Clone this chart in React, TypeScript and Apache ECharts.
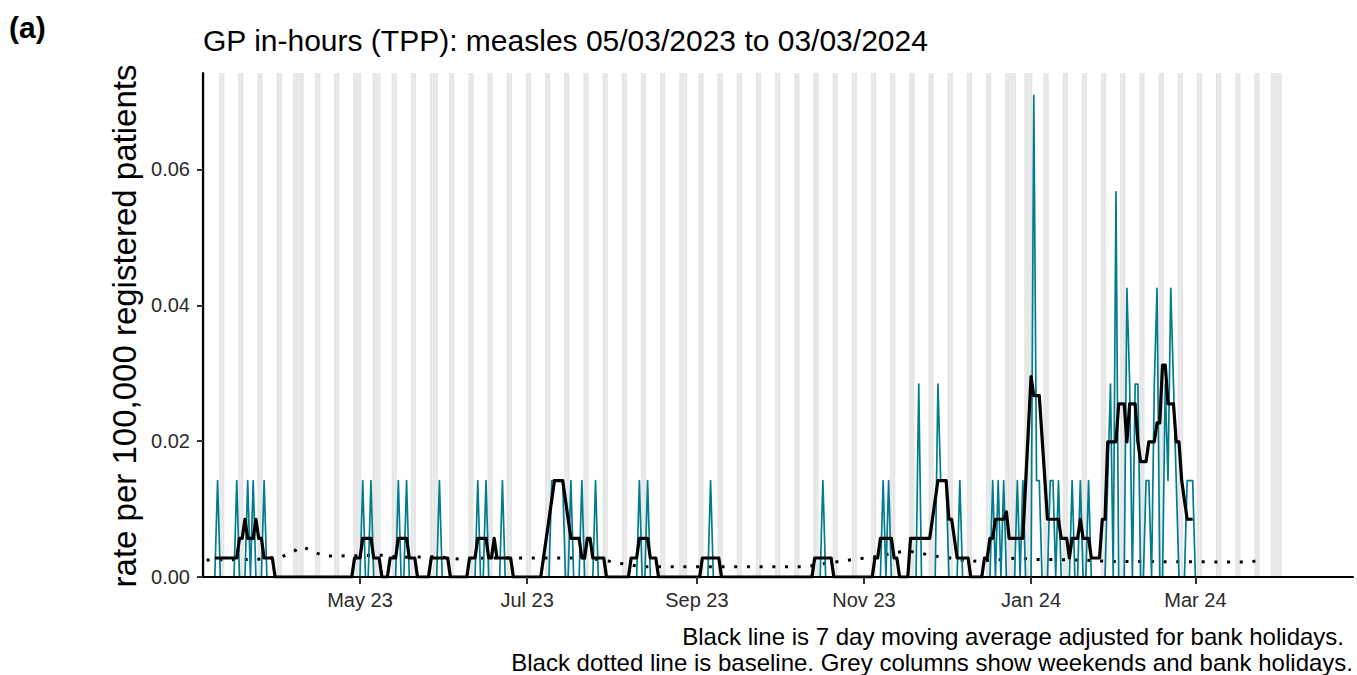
import { useEffect, useRef } from "react";
import * as echarts from "echarts";

// ---------- texts ----------
const TITLE = "GP in-hours (TPP): measles 05/03/2023 to 03/03/2024";
const PANEL_TAG = "(a)";
const Y_NAME = "rate per 100,000 registered patients";
const CAPTION_1 = "Black line is 7 day moving average adjusted for bank holidays.";
const CAPTION_2 = "Black dotted line is baseline. Grey columns show weekends and bank holidays.";

// ---------- axes ----------
const X_TICK_DATES = ["2023-05-01", "2023-07-01", "2023-09-01", "2023-11-01", "2024-01-01", "2024-03-01"];
const X_TICK_LABELS = ["May 23", "Jul 23", "Sep 23", "Nov 23", "Jan 24", "Mar 24"];
const Y_TICKS = [0, 0.02, 0.04, 0.06];
const Y_MAX = 0.0742;
const X_START = "2023-03-05";
const X_END = "2024-04-27";

// ---------- data ----------
const DAILY_START = "2023-03-06";
const DAILY_END = "2024-03-03";
// days with a non-zero daily rate (all other days in the range are 0)
const DAILY_NONZERO: [string, number][] = [
  ["2023-03-10", 0.0142], ["2023-03-17", 0.0142], ["2023-03-21", 0.0142], ["2023-03-23", 0.0142], ["2023-03-27", 0.0142],
  ["2023-05-02", 0.0142], ["2023-05-05", 0.0142], ["2023-05-15", 0.0142], ["2023-05-18", 0.0142], ["2023-05-30", 0.0142],
  ["2023-06-13", 0.0142], ["2023-06-16", 0.0142], ["2023-06-22", 0.0142],
  ["2023-07-10", 0.0142], ["2023-07-11", 0.0142], ["2023-07-12", 0.0142], ["2023-07-13", 0.0142], ["2023-07-14", 0.0142],
  ["2023-07-17", 0.0142], ["2023-07-21", 0.0142], ["2023-07-26", 0.0142],
  ["2023-08-11", 0.0142], ["2023-08-14", 0.0142], ["2023-09-06", 0.0142], ["2023-10-17", 0.0142],
  ["2023-11-08", 0.0142], ["2023-11-10", 0.0142], ["2023-11-21", 0.0284], ["2023-11-28", 0.0284],
  ["2023-11-29", 0.0142], ["2023-11-30", 0.0142], ["2023-12-01", 0.0142],
  ["2023-12-06", 0.0142], ["2023-12-18", 0.0142], ["2023-12-20", 0.0142], ["2023-12-22", 0.0142],
  ["2023-12-27", 0.0142], ["2023-12-29", 0.0142],
  ["2024-01-02", 0.0709], ["2024-01-03", 0.0142], ["2024-01-04", 0.0142], ["2024-01-08", 0.0142], ["2024-01-09", 0.0142],
  ["2024-01-11", 0.0142], ["2024-01-16", 0.0142], ["2024-01-19", 0.0142], ["2024-01-22", 0.0142],
  ["2024-01-29", 0.0142], ["2024-01-30", 0.0284], ["2024-02-01", 0.0567],
  ["2024-02-05", 0.0425], ["2024-02-06", 0.0284], ["2024-02-08", 0.0284], ["2024-02-09", 0.0284],
  ["2024-02-12", 0.0142], ["2024-02-13", 0.0142], ["2024-02-15", 0.0284], ["2024-02-16", 0.0425],
  ["2024-02-19", 0.0284], ["2024-02-20", 0.0142], ["2024-02-21", 0.0425], ["2024-02-22", 0.0284], ["2024-02-23", 0.0142],
  ["2024-02-27", 0.0142], ["2024-02-28", 0.0142], ["2024-02-29", 0.0142],
];

// 7 day moving average, read as the points where the black line changes direction
const MOVING_AVERAGE: [string, number][] = [
  ["2023-03-09", 0.0028], ["2023-03-17", 0.0028], ["2023-03-18", 0.0057], ["2023-03-19", 0.0057], ["2023-03-20", 0.0085],
  ["2023-03-21", 0.0057], ["2023-03-23", 0.0057], ["2023-03-24", 0.0085], ["2023-03-25", 0.0057], ["2023-03-26", 0.0057],
  ["2023-03-27", 0.0028], ["2023-03-30", 0.0028], ["2023-03-31", 0],
  ["2023-04-28", 0], ["2023-04-29", 0.0028], ["2023-05-01", 0.0028], ["2023-05-02", 0.0057], ["2023-05-05", 0.0057],
  ["2023-05-06", 0.0028], ["2023-05-08", 0.0028], ["2023-05-09", 0],
  ["2023-05-11", 0], ["2023-05-12", 0.0028], ["2023-05-14", 0.0028], ["2023-05-15", 0.0057], ["2023-05-18", 0.0057],
  ["2023-05-19", 0.0028], ["2023-05-21", 0.0028], ["2023-05-22", 0],
  ["2023-05-26", 0], ["2023-05-27", 0.0028], ["2023-06-02", 0.0028], ["2023-06-03", 0],
  ["2023-06-09", 0], ["2023-06-10", 0.0028], ["2023-06-12", 0.0028], ["2023-06-13", 0.0057], ["2023-06-16", 0.0057],
  ["2023-06-17", 0.0028], ["2023-06-18", 0.0028], ["2023-06-19", 0.0057], ["2023-06-20", 0.0028], ["2023-06-25", 0.0028],
  ["2023-06-26", 0],
  ["2023-07-06", 0], ["2023-07-11", 0.0142], ["2023-07-14", 0.0142], ["2023-07-17", 0.0057], ["2023-07-20", 0.0057],
  ["2023-07-21", 0.0028], ["2023-07-22", 0.0028], ["2023-07-23", 0.0057], ["2023-07-24", 0.0057], ["2023-07-25", 0.0028],
  ["2023-07-29", 0.0028], ["2023-07-30", 0],
  ["2023-08-07", 0], ["2023-08-08", 0.0028], ["2023-08-10", 0.0028], ["2023-08-11", 0.0057], ["2023-08-14", 0.0057],
  ["2023-08-15", 0.0028], ["2023-08-17", 0.0028], ["2023-08-18", 0],
  ["2023-09-02", 0], ["2023-09-03", 0.0028], ["2023-09-09", 0.0028], ["2023-09-10", 0],
  ["2023-10-13", 0], ["2023-10-14", 0.0028], ["2023-10-20", 0.0028], ["2023-10-21", 0],
  ["2023-11-04", 0], ["2023-11-05", 0.0028], ["2023-11-06", 0.0028], ["2023-11-07", 0.0057], ["2023-11-11", 0.0057],
  ["2023-11-12", 0.0028], ["2023-11-13", 0.0028], ["2023-11-14", 0],
  ["2023-11-17", 0], ["2023-11-18", 0.0057], ["2023-11-25", 0.0057], ["2023-11-28", 0.0142], ["2023-12-01", 0.0142],
  ["2023-12-02", 0.0085], ["2023-12-03", 0.0085], ["2023-12-04", 0.0057], ["2023-12-05", 0.0028], ["2023-12-09", 0.0028],
  ["2023-12-10", 0],
  ["2023-12-14", 0], ["2023-12-15", 0.0028], ["2023-12-16", 0.0028], ["2023-12-17", 0.0057], ["2023-12-18", 0.0057],
  ["2023-12-19", 0.0085], ["2023-12-22", 0.0085], ["2023-12-23", 0.0096], ["2023-12-24", 0.0057], ["2023-12-29", 0.0057],
  ["2024-01-01", 0.0295], ["2024-01-02", 0.0267], ["2024-01-04", 0.0267], ["2024-01-07", 0.0085], ["2024-01-11", 0.0085],
  ["2024-01-12", 0.0057], ["2024-01-14", 0.0057], ["2024-01-15", 0.0028], ["2024-01-16", 0.0057], ["2024-01-18", 0.0057],
  ["2024-01-19", 0.0085], ["2024-01-20", 0.0057], ["2024-01-22", 0.0057], ["2024-01-23", 0.0028], ["2024-01-26", 0.0028],
  ["2024-01-27", 0.0085], ["2024-01-28", 0.0085], ["2024-01-29", 0.0199], ["2024-02-01", 0.0199], ["2024-02-02", 0.0255],
  ["2024-02-04", 0.0255], ["2024-02-05", 0.0199], ["2024-02-06", 0.0255], ["2024-02-08", 0.0255], ["2024-02-09", 0.0199],
  ["2024-02-10", 0.017], ["2024-02-12", 0.017], ["2024-02-13", 0.0199], ["2024-02-15", 0.0199], ["2024-02-16", 0.0227],
  ["2024-02-17", 0.0227], ["2024-02-18", 0.0312], ["2024-02-19", 0.0312], ["2024-02-20", 0.0255], ["2024-02-22", 0.0255],
  ["2024-02-23", 0.0199], ["2024-02-24", 0.0199], ["2024-02-25", 0.0142], ["2024-02-26", 0.0113], ["2024-02-27", 0.0085],
  ["2024-02-29", 0.0085],
];

const BASELINE: [string, number][] = [
  ["2023-03-06", 0.0025], ["2023-03-24", 0.0026], ["2023-03-29", 0.0028], ["2023-04-02", 0.0029], ["2023-04-06", 0.0036],
  ["2023-04-10", 0.0045], ["2023-04-14", 0.0037], ["2023-04-18", 0.0031], ["2023-04-23", 0.0031], ["2023-05-10", 0.0032],
  ["2023-05-15", 0.0029], ["2023-05-29", 0.003], ["2023-06-07", 0.0026], ["2023-06-16", 0.0028], ["2023-07-20", 0.0028],
  ["2023-07-29", 0.0025], ["2023-08-04", 0.002], ["2023-08-08", 0.0018], ["2023-08-11", 0.0015], ["2023-10-11", 0.0015],
  ["2023-10-16", 0.0019], ["2023-10-25", 0.0024], ["2023-10-30", 0.0027], ["2023-11-04", 0.0029], ["2023-11-08", 0.0032],
  ["2023-11-12", 0.0036], ["2023-11-17", 0.0038], ["2023-11-22", 0.0035], ["2023-11-26", 0.0031], ["2023-12-01", 0.0029],
  ["2023-12-06", 0.0025], ["2023-12-10", 0.0023], ["2023-12-19", 0.0025], ["2023-12-24", 0.0027], ["2023-12-28", 0.0028],
  ["2024-01-01", 0.0026], ["2024-01-20", 0.0025], ["2024-01-29", 0.0023], ["2024-03-21", 0.0022], ["2024-03-25", 0.0025],
];

const BANK_HOLIDAYS = [
  "2023-04-07", "2023-04-10", "2023-05-01", "2023-05-08", "2023-05-29", "2023-08-28",
  "2023-12-25", "2023-12-26", "2024-01-01", "2024-03-29", "2024-04-01",
];
const GREY_FROM = "2023-03-05";
const GREY_TO = "2024-04-01";

// ---------- styling ----------
const FONT = "'Liberation Sans', Arial, Helvetica, sans-serif";
const TEAL = "#007C91";
const GREY = "#e6e6e6";

const DAY_MS = 86400000;
const ORIGIN = Date.UTC(2023, 4, 1);
function dayNum(s: string): number {
  const [y, m, d] = s.split("-").map(Number);
  return Math.round((Date.UTC(y, m - 1, d) - ORIGIN) / DAY_MS);
}

function buildDaily(): [number, number][] {
  const map = new Map<number, number>();
  DAILY_NONZERO.forEach(([s, v]) => map.set(dayNum(s), v));
  const out: [number, number][] = [];
  for (let d = dayNum(DAILY_START); d <= dayNum(DAILY_END); d++) out.push([d, map.get(d) ?? 0]);
  return out;
}

function buildGreyDays(): number[] {
  const set = new Set<number>(BANK_HOLIDAYS.map(dayNum));
  for (let d = dayNum(GREY_FROM); d <= dayNum(GREY_TO); d++) {
    const wd = new Date(ORIGIN + d * DAY_MS).getUTCDay();
    if (wd === 0 || wd === 6) set.add(d);
  }
  return Array.from(set).sort((a, b) => a - b);
}

export default function App() {
  const ref = useRef<HTMLDivElement>(null);
  useEffect(() => {
    if (!ref.current) return;
    const chart = echarts.init(ref.current, null, { renderer: "svg" });
    const xTicks = X_TICK_DATES.map(dayNum);
    const greyDays = buildGreyDays();
    const option: any = {
      animation: false,
      backgroundColor: "#ffffff",
      grid: { left: 203, right: 4, top: 73, bottom: 98, containLabel: false },
      xAxis: {
        type: "value",
        min: dayNum(X_START) - 0.32,
        max: dayNum(X_END) + 0.54,
        z: 10,
        splitLine: { show: false },
        axisLine: { show: true, onZero: false, lineStyle: { color: "#000", width: 2.2 } },
        axisTick: { show: true, customValues: xTicks, length: 7, lineStyle: { color: "#333", width: 2 } },
        axisLabel: {
          show: true,
          customValues: xTicks,
          margin: 13,
          color: "#2b2b2b",
          fontSize: 20,
          fontFamily: FONT,
          formatter: (v: number) => {
            const i = xTicks.findIndex((t) => Math.abs(t - v) < 0.5);
            return i >= 0 ? X_TICK_LABELS[i] : "";
          },
        },
      },
      yAxis: {
        type: "value",
        min: 0,
        max: Y_MAX,
        interval: 0.02,
        z: 10,
        splitLine: { show: false },
        axisLine: { show: true, onZero: false, lineStyle: { color: "#000", width: 2.2 } },
        axisTick: { show: true, customValues: Y_TICKS, length: 6, lineStyle: { color: "#333", width: 2 } },
        axisLabel: {
          show: true,
          customValues: Y_TICKS,
          margin: 13,
          color: "#2b2b2b",
          fontSize: 20,
          fontFamily: FONT,
          formatter: (v: number) => v.toFixed(2),
        },
      },
      series: [
        {
          type: "custom",
          name: "weekends and bank holidays",
          silent: true,
          clip: true,
          z: 1,
          data: greyDays.map((d) => [d, Y_MAX]),
          encode: { x: 0, y: 1 },
          renderItem: (_params: any, api: any) => {
            const d = api.value(0);
            const top = api.value(1);
            const p0 = api.coord([d - 0.47, top]);
            const p1 = api.coord([d + 0.47, 0]);
            return {
              type: "rect",
              shape: { x: p0[0], y: p0[1], width: p1[0] - p0[0], height: p1[1] - p0[1] },
              style: { fill: GREY },
            };
          },
        },
        {
          type: "line",
          name: "baseline",
          silent: true,
          z: 3,
          symbol: "none",
          data: BASELINE.map(([s, v]) => [dayNum(s), v]),
          lineStyle: { color: "#000", width: 3, type: [3, 9.7], cap: "butt" },
        },
        {
          type: "line",
          name: "daily rate",
          silent: true,
          z: 4,
          symbol: "none",
          data: buildDaily(),
          lineStyle: { color: TEAL, width: 1.7, join: "round" },
        },
        {
          type: "line",
          name: "7 day moving average",
          silent: true,
          z: 5,
          symbol: "none",
          data: MOVING_AVERAGE.map(([s, v]) => [dayNum(s), v]),
          lineStyle: { color: "#000", width: 3.2, join: "round" },
        },
      ],
      graphic: [
        {
          type: "text",
          left: 9,
          top: 12,
          style: { text: PANEL_TAG, font: `bold 30px ${FONT}`, fill: "#000" },
        },
        {
          type: "text",
          x: 203,
          y: 40,
          style: { text: TITLE, font: `30px ${FONT}`, fill: "#000", textAlign: "left", textVerticalAlign: "middle" },
        },
        {
          type: "text",
          x: 124,
          y: 326,
          rotation: Math.PI / 2,
          style: { text: Y_NAME, font: `33px ${FONT}`, fill: "#000", textAlign: "center", textVerticalAlign: "middle" },
        },
        {
          type: "text",
          x: 1344,
          y: 636,
          style: { text: CAPTION_1, font: `24px ${FONT}`, fill: "#000", textAlign: "right", textVerticalAlign: "middle" },
        },
        {
          type: "text",
          x: 1353,
          y: 662,
          style: { text: CAPTION_2, font: `24px ${FONT}`, fill: "#000", textAlign: "right", textVerticalAlign: "middle" },
        },
      ],
    };
    chart.setOption(option);
    return () => chart.dispose();
  }, []);
  return (
    <div
      ref={ref}
      style={{ position: "fixed", left: 0, top: 0, width: 1357, height: 675, background: "#fff" }}
    />
  );
}
